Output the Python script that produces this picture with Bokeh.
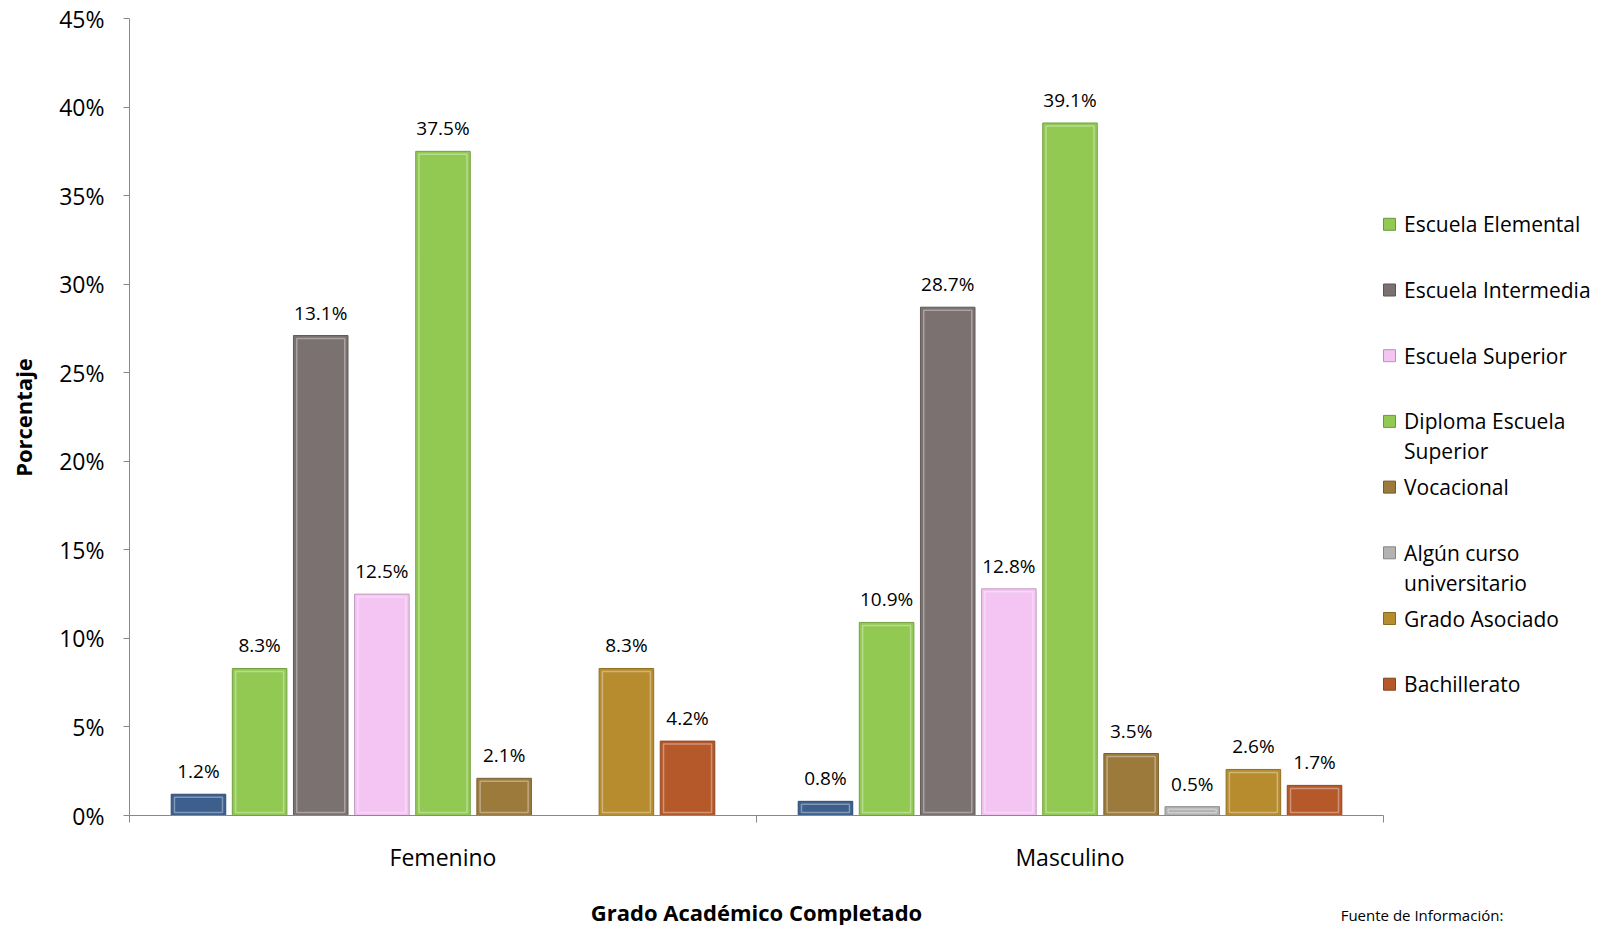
import math
from bokeh.plotting import figure
from bokeh.models import Range1d, FixedTicker, PrintfTickFormatter, Label, ColumnDataSource
from bokeh.core.properties import value
from bokeh.embed import file_html
from bokeh.resources import INLINE

# ---------------- data ----------------
groups = ["Femenino", "Masculino"]
legend_labels = ["Escuela Elemental", "Escuela Intermedia", "Escuela Superior",
                 "Diploma Escuela\nSuperior", "Vocacional", "Algún curso\nuniversitario",
                 "Grado Asociado", "Bachillerato"]
# first series (blue) is not listed in the legend of the original chart
femenino = [1.2, 8.3, 27.1, 12.5, 37.5, 2.1, None, 8.3, 4.2]
femenino_labels = ["1.2%", "8.3%", "13.1%", "12.5%", "37.5%", "2.1%", "", "8.3%", "4.2%"]
masculino = [0.8, 10.9, 28.7, 12.8, 39.1, 3.5, 0.5, 2.6, 1.7]
masculino_labels = ["0.8%", "10.9%", "28.7%", "12.8%", "39.1%", "3.5%", "0.5%", "2.6%", "1.7%"]
colors = ["#3d5f8e", "#92c953", "#7b7170", "#f4c4f2", "#92c953",
          "#9b7a3c", "#b3b3b3", "#b68c2e", "#b5592a"]
y_ticks = [0, 5, 10, 15, 20, 25, 30, 35, 40, 45]

FONT = "Open Sans"
AXIS_GRAY = "#888888"

# ---------------- layout (pixels) ----------------
W, H = 1600, 925
AX_X, AX_Y0, AX_Y45 = 129.0, 815.0, 18.0      # axis origin and 45% position
PX_PER_CAT = 627.0                             # one category in pixels
PX_PER_PCT = (AX_Y0 - AX_Y45) / 45.0


def dx(px):
    return (px - AX_X) / PX_PER_CAT


def dy(py):
    return (AX_Y0 - py) / PX_PER_PCT


def shade(hexc, f):
    r, g, b = int(hexc[1:3], 16), int(hexc[3:5], 16), int(hexc[5:7], 16)
    if f < 1:
        r, g, b = int(r * f), int(g * f), int(b * f)
    else:
        t = f - 1
        r, g, b = int(r + (255 - r) * t), int(g + (255 - g) * t), int(b + (255 - b) * t)
    return "#%02x%02x%02x" % (r, g, b)


p = figure(width=W, height=H, output_backend="svg", toolbar_location=None,
           x_range=Range1d(dx(0), dx(W)), y_range=Range1d(dy(H), dy(0)),
           min_border_left=0, min_border_right=0, min_border_top=0,
           min_border_bottom=0)
p.outline_line_color = None
p.xgrid.grid_line_color = None
p.ygrid.grid_line_color = None
p.background_fill_color = "white"
p.border_fill_color = "white"

# y axis (inside frame, at x = 0)
p.yaxis.fixed_location = 0
p.yaxis.bounds = (0, 45)
p.yaxis.ticker = FixedTicker(ticks=y_ticks, minor_ticks=[])
p.yaxis.formatter = PrintfTickFormatter(format="%d%%")
p.yaxis.axis_line_color = AXIS_GRAY
p.yaxis.major_tick_line_color = AXIS_GRAY
p.yaxis.major_tick_out = 6
p.yaxis.major_tick_in = 0
p.yaxis.major_label_standoff = 19
p.yaxis.major_label_text_font = FONT
p.yaxis.major_label_text_font_size = "23px"
p.yaxis.major_label_text_color = "black"

# x axis (inside frame, at y = 0)
p.xaxis.fixed_location = 0
p.xaxis.bounds = (0, 2)
p.xaxis.ticker = FixedTicker(ticks=[0.5, 1.5], minor_ticks=[0, 1, 2])
p.xaxis.major_label_overrides = {0.5: groups[0], 1.5: groups[1]}
p.xaxis.axis_line_color = AXIS_GRAY
p.xaxis.major_tick_line_color = None
p.xaxis.major_tick_out = 7
p.xaxis.major_tick_in = 0
p.xaxis.minor_tick_line_color = AXIS_GRAY
p.xaxis.minor_tick_out = 7
p.xaxis.minor_tick_in = 0
p.xaxis.major_label_standoff = 18
p.xaxis.major_label_text_font = FONT
p.xaxis.major_label_text_font_size = "23px"
p.xaxis.major_label_text_color = "black"

# bars
step = 0.0975
bw = 0.087
for gi, (vals, labs) in enumerate([(femenino, femenino_labels), (masculino, masculino_labels)]):
    xs, tops, cols, dark, light, lt = [], [], [], [], [], []
    for i, v in enumerate(vals):
        if v is None:
            continue
        xs.append(gi + 0.5 + (i - 4) * step)
        tops.append(v)
        cols.append(colors[i])
        dark.append(shade(colors[i], 0.8))
        light.append(shade(colors[i], 1.45))
        lt.append(labs[i])
    src = ColumnDataSource(dict(x=xs, top=tops, c=cols, d=dark, l=light, t=lt,
                                itop=[t - min(0.17, t * 0.3) for t in tops],
                                ibot=[min(0.17, t * 0.3) for t in tops]))
    p.vbar(x="x", top="top", bottom=0, width=bw, fill_color="c", line_color="d",
           line_width=1, source=src)
    p.vbar(x="x", top="itop", bottom="ibot", width=bw * 0.88, fill_color=None,
           line_color="l", line_width=1.5, line_alpha=0.8, source=src)
    p.text(x="x", y="top", text="t", text_align="center", text_baseline="middle",
           y_offset=-23, text_font=value(FONT), text_font_size="19px",
           text_color="black", source=src)

# legend (drawn manually, equally spaced slots)
leg_first_y = 223.8
leg_step_px = 65.7
for k, lab in enumerate(legend_labels):
    yk = dy(leg_first_y + k * leg_step_px)
    c = colors[k + 1]
    p.scatter(x=[dx(1389)], y=[yk], marker="square", size=12, fill_color=c,
              line_color=shade(c, 0.75), line_width=1)
    for j, ln in enumerate(lab.split("\n")):
        p.text(x=[dx(1403.6)], y=[yk], text=[ln], y_offset=j * 30, text_align="left",
               text_baseline="middle", text_font=value(FONT),
               text_font_size="21px", text_color="black")

# titles
p.add_layout(Label(x=dx(756), y=dy(911), text="Grado Académico Completado",
                   text_align="center", text_baseline="middle", text_font=FONT,
                   text_font_style="bold", text_font_size="22px", text_color="black"))
p.add_layout(Label(x=dx(22.6), y=dy(417), text="Porcentaje", angle=math.pi / 2,
                   text_align="center", text_baseline="middle", text_font=FONT,
                   text_font_style="bold", text_font_size="22px", text_color="black"))
p.add_layout(Label(x=dx(1421.5), y=dy(914), text="Fuente de Información:",
                   text_align="center", text_baseline="middle", text_font=FONT,
                   text_font_size="15px", text_color="black"))

open("out.html", "w").write(file_html(p, INLINE))
